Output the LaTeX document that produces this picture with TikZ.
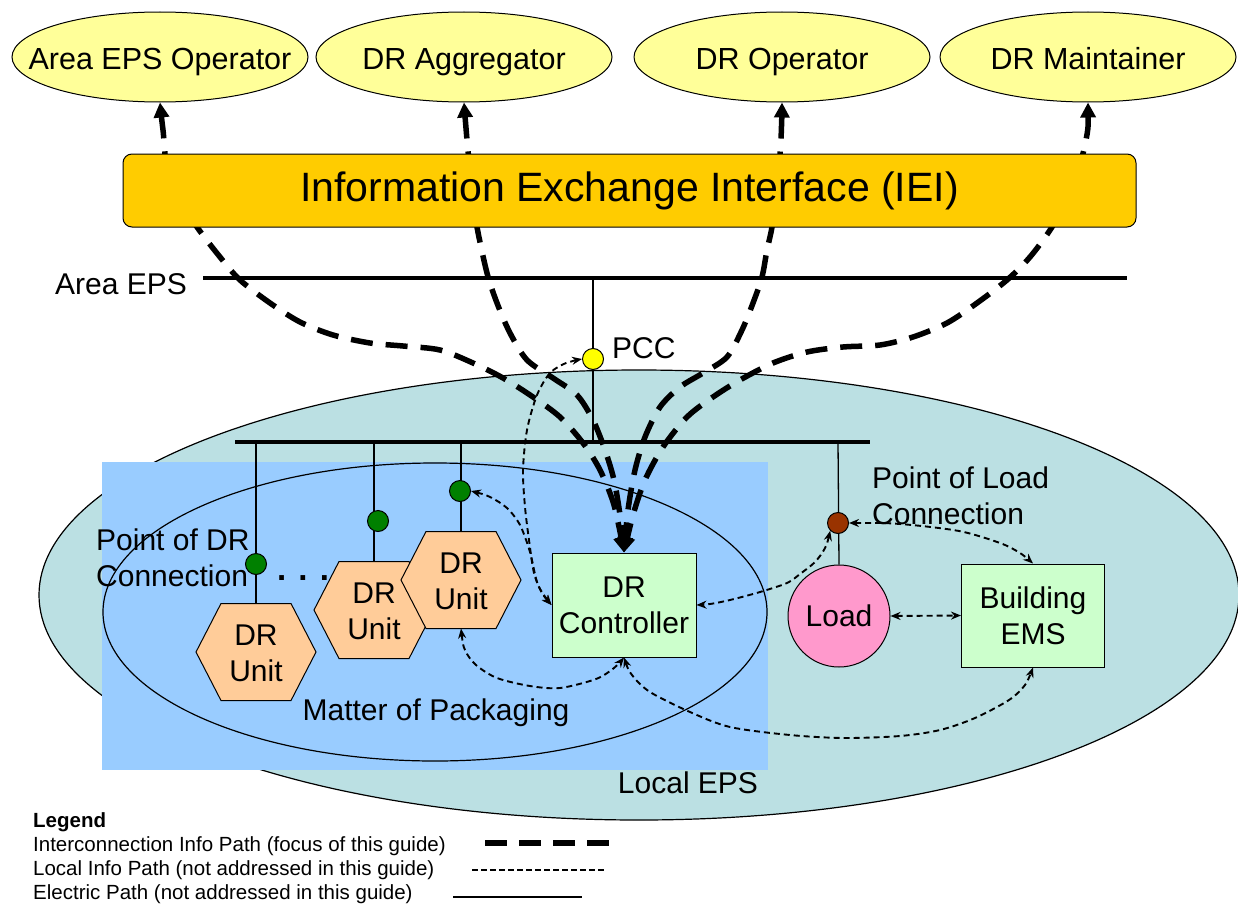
\documentclass[tikz,border=0pt]{standalone}
\usepackage{fontspec}
\setmainfont{Liberation Sans}
\usetikzlibrary{arrows.meta,calc,shapes.geometric}
\pgfdeclarelayer{bg}
\pgfdeclarelayer{mid}
\pgfsetlayers{bg,mid,main}
\definecolor{ellyellow}{HTML}{FFFF99}
\definecolor{ieigold}{HTML}{FFCC00}
\definecolor{localteal}{HTML}{BBE0E3}
\definecolor{bluebg}{HTML}{99CCFF}
\definecolor{hexpeach}{HTML}{FFCC99}
\definecolor{boxgreen}{HTML}{CCFFCC}
\definecolor{loadpink}{HTML}{FF99CC}
\definecolor{pccyellow}{HTML}{FFFF00}
\definecolor{drgreen}{HTML}{008000}
\definecolor{loadbrown}{HTML}{993300}
\begin{document}
\begin{tikzpicture}[x=1pt,y=-1pt,
  every node/.style={font=\fontsize{30}{36}\selectfont, inner sep=0pt},
  topell/.style={ellipse, draw, fill=ellyellow, minimum width=296pt, minimum height=90pt, line width=1pt,
     text height=24pt, text depth=0pt, font=\fontsize{30.5}{36}\selectfont},
  iei/.style={rectangle, rounded corners=9pt, draw, fill=ieigold, minimum width=1013pt, minimum height=73pt, line width=1pt, font=\fontsize{41}{48}\selectfont},
  hexstyle/.style={draw, fill=hexpeach, line width=1pt},
  dotnode/.style={circle, draw, minimum size=21pt, line width=1pt},
  boxnode/.style={rectangle, draw, fill=boxgreen, minimum width=144pt, minimum height=104pt, align=center, line width=1pt},
  loadnode/.style={circle, draw, fill=loadpink, minimum size=102pt, line width=1pt},
  busline/.style={line width=4pt},
  elec/.style={line width=1.3pt},
  bigdash/.style={line width=5.5pt, dash pattern=on 22pt off 13pt, >={Triangle[length=15pt,width=15pt]}, <->},
  localdash/.style={line width=1.9pt, dash pattern=on 6pt off 4pt, >={Stealth[length=10pt,width=8pt]}, <->},
  legendtext/.style={anchor=west, font=\fontsize{20.5}{24}\selectfont}
]
\useasboundingbox (0,0) rectangle (1238,907);

% ---------- top actors ----------
\node[topell] (aeo) at (160,57) {\makebox[0pt]{Area EPS Operator}};
\node[topell] (dra) at (464,57) {\makebox[0pt]{DR Aggregator}};
\node[topell] (dro) at (782,57) {\makebox[0pt]{DR Operator}};
\node[topell] (drm) at (1088,57) {\makebox[0pt]{DR Maintainer}};
\node[iei] (ieibox) at (629.5,190.5) {Information Exchange Interface (IEI)};

% ---------- area EPS ----------
\node[anchor=west] (aepslbl) at (55,284) {Area EPS};
\coordinate (ae1) at (203,278);
\coordinate (ae2) at (1127,278);
\coordinate (lb1) at (235,442);
\coordinate (lb2) at (870,442);
\node[dotnode, fill=pccyellow] (pcc) at (593,359) {};
\node[anchor=west] (pcclbl) at (612,348) {PCC};

% ---------- DR units ----------
\foreach \n/\cx/\cy in {1/256/652, 2/374/610, 3/461/580} {
  \coordinate (h\n) at (\cx,\cy);
  \draw[hexstyle] (h\n) ++(-60,0) -- ++(25,-48.5) -- ++(70,0) -- ++(25,48.5)
      -- ++(-25,48.5) -- ++(-70,0) -- cycle;
  \node[align=center] (u\n) at ($(h\n)+(0,1.5)$) {DR\\Unit};
}
\coordinate (u1t) at ($(h1)+(0,-48.5)$);
\coordinate (u2t) at ($(h2)+(0,-48.5)$);
\coordinate (u3t) at ($(h3)+(0,-48.5)$);
\coordinate (u3b) at ($(h3)+(0,48.5)$);
\node[dotnode, fill=drgreen] (d1) at (256,564) {};
\node[dotnode, fill=drgreen] (d2) at (378,521) {};
\node[dotnode, fill=drgreen] (d3) at (460,491) {};
\node[anchor=west, align=left] (podr) at (96,558) {Point of DR\\Connection};
\node[font={\fontsize{33}{36}\selectfont\bfseries}] (dotsl) at (303,578) {. . .};

% ---------- controller, load, EMS ----------
\node[boxnode] (ctrl) at (624,605) {DR\\Controller};
\node[loadnode] (load) at (839,616) {Load};
\node[boxnode, minimum width=143pt, minimum height=103pt] (ems) at (1033,615.5) {Building\\EMS};
\node[dotnode, fill=loadbrown] (pl) at (838,523) {};
\node[anchor=west, align=left] (polc) at (872,496) {Point of Load\\Connection};
\node (mop) at (436,713) {Matter of Packaging};
\node (leps) at (688,783) {Local EPS};

% ---------- legend ----------
\node[legendtext, font=\fontsize{20.5}{24}\selectfont\bfseries] (lg0) at (33,822) {Legend};
\node[legendtext] (lg1) at (33,846) {Interconnection Info Path (focus of this guide)};
\node[legendtext] (lg2) at (33,870) {Local Info Path (not addressed in this guide)};
\node[legendtext] (lg3) at (33,894) {Electric Path (not addressed in this guide)};
\coordinate (l1a) at (485,843); \coordinate (l1b) at (609,843);
\coordinate (l2a) at (472,870); \coordinate (l2b) at (604,870);
\coordinate (l3a) at (453,897); \coordinate (l3b) at (582,897);
\draw[line width=6pt, dash pattern=on 22pt off 12pt] (l1a) -- (l1b);
\draw[line width=2pt, dash pattern=on 5.5pt off 3.5pt] (l2a) -- (l2b);
\draw[elec] (l3a) -- (l3b);

% ---------- background layer ----------
\begin{pgfonlayer}{bg}
  \fill[white] (0,0) rectangle (1238,907);
  \draw[fill=localteal, line width=1.2pt] (639,595) ellipse [x radius=600pt, y radius=225pt];
  \fill[bluebg] (102,462) rectangle (768,770);
  \draw[line width=1.2pt] (435,612) ellipse [x radius=332pt, y radius=149pt];
  \draw[busline] (ae1) -- (ae2);
  \draw[busline] (lb1) -- (lb2);
  \draw[elec] (pcc |- ae1) -- (pcc |- lb1);
  \draw[elec] (u1t |- lb1) -- (u1t);
  \draw[elec] (u2t |- lb1) -- (u2t);
  \draw[elec] (u3t |- lb1) -- (u3t);
  \draw[elec] (pl |- lb1) -- (load.north);
\end{pgfonlayer}

% ---------- information paths ----------
\begin{pgfonlayer}{mid}
  \draw[bigdash] plot[smooth] coordinates {(aeo.south) (163,130) (170,185) (197,227) (220,257)
     (240,280) (270,303) (300,322) (333,335) (370,343) (403,346) (440,350) (473,363) (503,378)
     (533,397) (560,417) (583,443) (600,470) (614,505) (ctrl.north)};
  \draw[bigdash] plot[smooth] coordinates {(dra.south) (467,140) (472,190) (477,227) (487,273)
     (497,303) (510,333) (527,360) (553,378) (577,395) (593,420) (605,450) (614,480) (620,515) (ctrl.north)};
  \draw[bigdash] plot[smooth] coordinates {(dro.south) (781,140) (777,190) (772,227) (767,250)
     (762,277) (753,303) (742,330) (727,357) (703,373) (680,387) (660,407) (645,437) (635,470) (628,510) (ctrl.north)};
  \draw[bigdash] plot[smooth] coordinates {(drm.south) (1086,140) (1072,190) (1052,227) (1030,257)
     (1007,280) (977,303) (947,323) (913,337) (880,345) (843,347) (807,352) (773,363) (740,380)
     (713,397) (687,417) (663,447) (645,480) (633,515) (ctrl.north)};

  \draw[localdash] plot[smooth] coordinates {(pcc.west) (566,363) (550,373) (537,395) (527,430)
     (523,470) (525,507) (529,540) (534,573) (542,593) (ctrl.west)};
  \draw[localdash] plot[smooth] coordinates {(d3.east) (490,497) (507,508) (520,525) (530,552) (538,585) (ctrl.west)};
  \draw[localdash] plot[smooth] coordinates {(u3b) (465,650) (476,665) (497,678) (530,686) (560,688)
     (596,679) (614,668) (ctrl.south)};
  \draw[localdash] plot[smooth] coordinates {(ctrl.south) (632,675) (650,692) (690,712) (730,727)
     (790,735) (844,738) (900,736) (940,730) (975,718) (1009,700) (1025,685) (ems.south)};
  \draw[localdash] plot[smooth] coordinates {(pl.south west) (825,548) (815,562) (800,574) (787,583)
     (760,592) (730,600) (710,604) (ctrl.east)};
  \draw[localdash] plot[smooth] coordinates {(pl.east) (900,524) (959,531) (1000,543) (1020,553) (ems.north)};
  \draw[localdash] (load.east) -- (ems.west);
\end{pgfonlayer}
\end{tikzpicture}
\end{document}
